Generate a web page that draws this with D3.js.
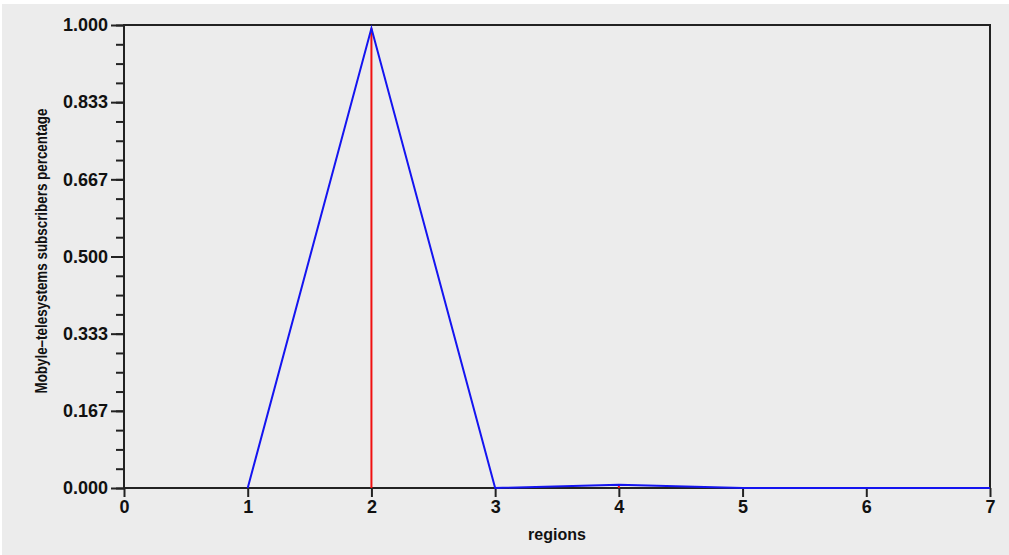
<!DOCTYPE html>
<html>
<head>
<meta charset="utf-8">
<script src="https://cdn.jsdelivr.net/npm/d3@7"></script>
<style>
  body { margin: 0; background: #fff; }
  svg { display: block; }
  text { font-family: "Liberation Sans", Arial, sans-serif; font-weight: bold; fill: #111; }
</style>
</head>
<body>
<svg id="chart"></svg>
<script>
// regions and their share of subscribers
const regions = [1, 2, 3, 4, 5, 6, 7];
const share = [0, 0.993, 0, 0.007, 0, 0, 0];
const yTicks = [0, 1/6, 2/6, 3/6, 4/6, 5/6, 1];
const xTicks = [0, 1, 2, 3, 4, 5, 6, 7];

const svgWidth = 1009;
const svgHeight = 555;
const margin = {left: 124, right: 19, top: 25, bottom: 67};

const svg = d3.select("#chart")
    .attr("width", svgWidth)
    .attr("height", svgHeight);

// grey panel
svg.append("rect")
    .attr("x", 2).attr("y", 4)
    .attr("width", svgWidth - 2).attr("height", svgHeight - 4)
    .style("fill", "#ececec");

const x = d3.scaleLinear().domain([0, 7]).range([margin.left, svgWidth - margin.right]);
const y = d3.scaleLinear().domain([0, 1]).range([svgHeight - margin.bottom, margin.top]);

// minor ticks on y
const minor = d3.range(0, 25).map(i => i / 24);
svg.append("g")
    .attr("transform", `translate(${margin.left},0)`)
    .call(d3.axisLeft(y).tickValues(minor).tickSize(8).tickFormat(""))
    .call(g => g.select(".domain").remove())
    .selectAll("line").style("stroke", "#222").style("stroke-width", 2);

const yAxis = svg.append("g")
    .attr("transform", `translate(${margin.left},0)`)
    .call(d3.axisLeft(y).tickValues(yTicks).tickSize(13).tickPadding(3).tickFormat(d3.format(".3f")));
yAxis.select(".domain").remove();
yAxis.selectAll("line").style("stroke", "#222").style("stroke-width", 2);
yAxis.selectAll("text").style("font-size", "18px").style("font-family", "Liberation Sans, Arial, sans-serif").style("fill", "#111");

const xAxis = svg.append("g")
    .attr("transform", `translate(0,${y(0)})`)
    .call(d3.axisBottom(x).tickValues(xTicks).tickSize(9).tickPadding(3).tickFormat(d3.format("d")));
xAxis.select(".domain").remove();
xAxis.selectAll("line").style("stroke", "#222").style("stroke-width", 2);
xAxis.selectAll("text").style("font-size", "18px").style("font-family", "Liberation Sans, Arial, sans-serif").style("fill", "#111");

// frame
svg.append("rect")
    .attr("x", x(0)).attr("y", y(1))
    .attr("width", x(7) - x(0)).attr("height", y(0) - y(1))
    .style("fill", "none").style("stroke", "#222").style("stroke-width", 2);

// red stems
svg.selectAll(".stem")
    .data(regions)
    .enter()
    .append("line")
    .attr("class", "stem")
    .attr("x1", d => x(d)).attr("x2", d => x(d))
    .attr("y1", y(0))
    .attr("y2", (d, i) => y(share[i]))
    .style("stroke", "#f01010").style("stroke-width", 2);

// blue line
const line = d3.line()
    .x(d => x(d[0]))
    .y(d => y(d[1]));
svg.append("path")
    .datum(regions.map((r, i) => [r, share[i]]))
    .attr("d", line)
    .style("fill", "none").style("stroke", "#1414f0").style("stroke-width", 2);

// axis titles
svg.append("text")
    .attr("x", (x(0) + x(7)) / 2).attr("y", 540)
    .attr("text-anchor", "middle")
    .style("font-size", "16px")
    .text("regions");

svg.append("text")
    .attr("transform", `translate(47,251) rotate(-90)`)
    .attr("text-anchor", "middle")
    .attr("textLength", 285)
    .attr("lengthAdjust", "spacingAndGlyphs")
    .style("font-size", "16px")
    .text("Mobyle–telesystems subscribers percentage");
</script>
</body>
</html>
